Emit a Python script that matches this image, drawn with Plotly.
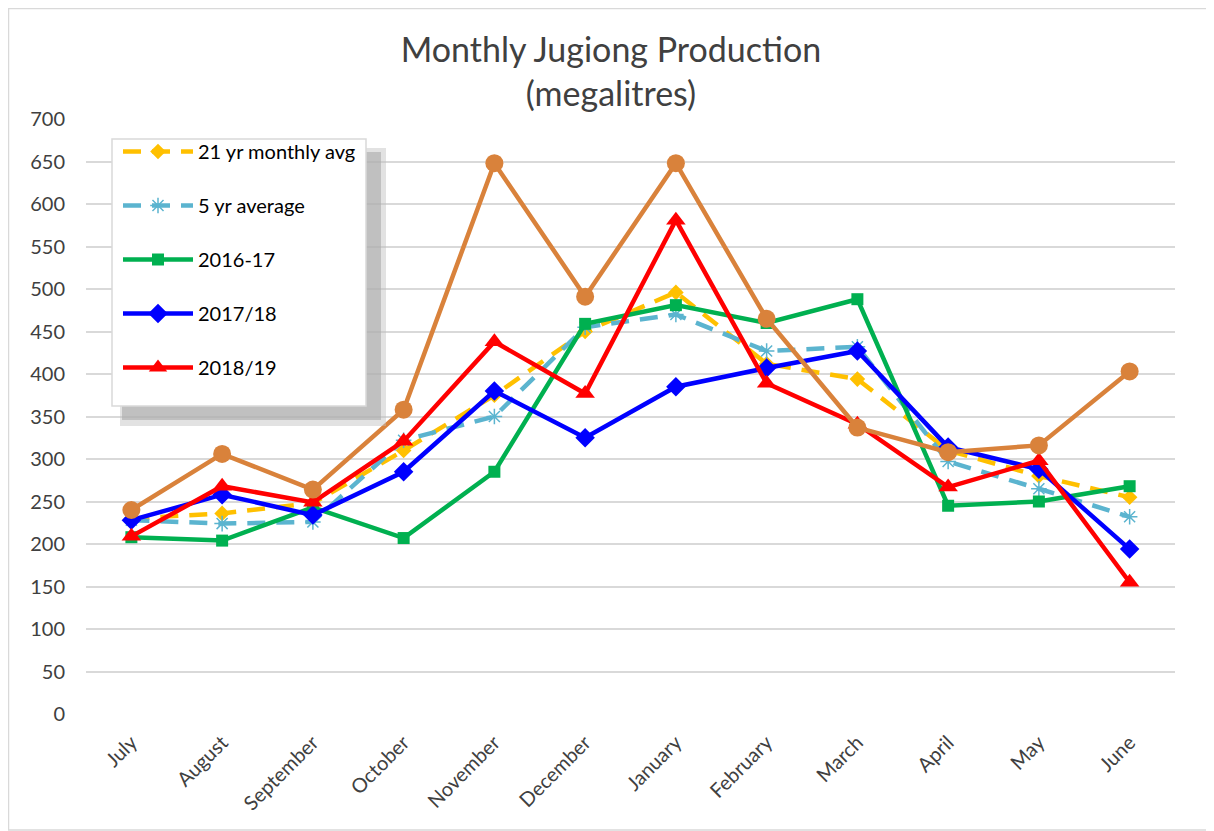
import plotly.graph_objects as go

months = ["July", "August", "September", "October", "November", "December",
          "January", "February", "March", "April", "May", "June"]

avg21 = [230, 236, 248, 310, 375, 450, 496, 412, 394, 310, 280, 255]
avg5 = [228, 224, 226, 322, 350, 455, 470, 427, 432, 297, 265, 232]
y2016_17 = [208, 204, 243, 207, 285, 459, 481, 460, 488, 245, 250, 268]
y2017_18 = [228, 258, 234, 285, 380, 325, 385, 407, 427, 314, 288, 194]
y2018_19 = [209, 268, 249, 321, 438, 377, 581, 389, 341, 267, 298, 155]
y2019_20 = [240, 306, 264, 358, 648, 491, 648, 465, 337, 308, 316, 403]

FONT = "Lato"
OFF = 8  # page body margin offset
W, H = 1214 - OFF, 831 - OFF
L, R, T, B = 86 - OFF, 1175 - OFF, 119 - OFF, 714 - OFF


def px(x):
    return (x - OFF - L) / (R - L)


def py(y):
    return (B - (y - OFF)) / (B - T)


fig = go.Figure()

series = [
    ("21 yr monthly avg", avg21, "#FFC000", "18px,11px", "diamond", 12, True),
    ("5 yr average", avg5, "#5BB4CF", "18px,11px", "asterisk-open", 13, True),
    ("2016-17", y2016_17, "#00B050", "solid", "square", 12, True),
    ("2017/18", y2017_18, "#0000FF", "solid", "diamond", 15, True),
    ("2018/19", y2018_19, "#FF0000", "solid", "triangle-up", 17, True),
    ("2019/20", y2019_20, "#D9823B", "solid", "circle", 18, False),
]

for i, (name, vals, col, dash, sym, ms, show) in enumerate(series):
    fig.add_trace(go.Scatter(
        x=months, y=vals, name=name, mode="lines+markers",
        line=dict(color=col, width=4.5 if dash == "solid" else 4.5, dash=dash),
        marker=dict(symbol=sym, size=ms, color=col,
                    line=dict(color=col, width=1.5 if sym == "asterisk-open" else 0)),
        showlegend=show, legendgroup=f"g{i}",
    ))

shapes = [
    # outer chart border
    dict(type="rect", xref="paper", yref="paper",
         x0=px(8.5), x1=px(1213), y0=py(830), y1=py(8.5),
         line=dict(color="#D9D9D9", width=1.5), fillcolor="rgba(0,0,0,0)", layer="below"),
    # legend shadow (soft)
    dict(type="rect", xref="paper", yref="paper",
         x0=px(120), x1=px(386), y0=py(426), y1=py(148),
         line=dict(width=0), fillcolor="rgba(190,190,190,0.45)", layer="above"),
    dict(type="rect", xref="paper", yref="paper",
         x0=px(122), x1=px(381), y0=py(420), y1=py(152),
         line=dict(width=0), fillcolor="rgba(170,170,170,0.6)", layer="above"),
    # legend box
    dict(type="rect", xref="paper", yref="paper",
         x0=px(112), x1=px(366), y0=py(406), y1=py(139),
         line=dict(color="#D9D9D9", width=1.5), fillcolor="white", layer="above"),
]

fig.update_layout(
    width=W, height=H,
    margin=dict(l=L, r=W - R, t=T, b=H - B, autoexpand=False),
    paper_bgcolor="white", plot_bgcolor="white",
    font=dict(family=FONT, color="#404040", size=20),
    title=dict(text="Monthly Jugiong Production<br>(megalitres)",
               x=0.5, xanchor="center", y=1 - 54 / H, yanchor="top",
               font=dict(family=FONT, size=34, color="#404040")),
    xaxis=dict(type="category", range=[-0.5, 11.5], tickangle=-45,
               showgrid=False, showline=False, ticks="", automargin=False,
               ticklabelstandoff=12,
               tickfont=dict(size=20, color="#404040")),
    yaxis=dict(range=[0, 700], dtick=50, showgrid=True, gridcolor="#D9D9D9",
               gridwidth=1.5, zeroline=False, showline=False, ticks="",
               automargin=False, ticklabelstandoff=20,
               tickfont=dict(size=20, color="#404040")),
    legend=dict(x=px(118), y=py(132), xanchor="left", yanchor="top",
                bgcolor="rgba(0,0,0,0)", borderwidth=0, itemwidth=70,
                font=dict(family=FONT, size=20, color="#000000"),
                tracegroupgap=25, traceorder="grouped"),
    shapes=shapes,
)

fig.write_html("out.html")
